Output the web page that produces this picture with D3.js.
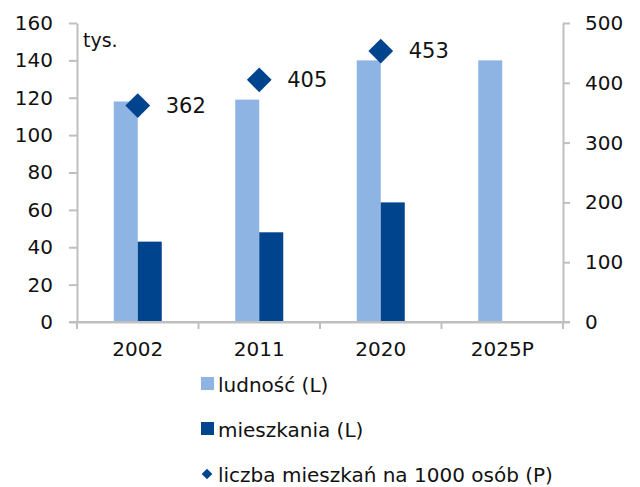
<!DOCTYPE html>
<html><head><meta charset="utf-8">
<script src="https://cdn.jsdelivr.net/npm/d3@7"></script>
<style>body{margin:0;background:#fff}svg{display:block;font-family:"DejaVu Sans",sans-serif}</style>
</head><body>
<svg id="c" width="640" height="487"></svg>
<script>
const categories = ["2002","2011","2020","2025P"];
const ludnosc = [118, 119, 140, 140];
const mieszkania = [43, 48, 64, null];
const naTysiac = [362, 405, 453, null];
const leftTicks = [0,20,40,60,80,100,120,140,160];
const rightTicks = [0,100,200,300,400,500];
const legendLabels = ["ludność (L)","mieszkania (L)","liczba mieszkań na 1000 osób (P)"];

const LIGHT = "#8eb4e3", DARK = "#00448e", AXIS = "#bfbfbf", TXT = "#111";
const svg = d3.select("#c");
const x0 = 77, x1 = 563, yTop = 23, yBot = 322;

const x = d3.scaleBand().domain(categories).range([x0, x1]).paddingInner(0).paddingOuter(0);
const yL = d3.scaleLinear().domain([0,160]).range([yBot, yTop]);
const yR = d3.scaleLinear().domain([0,500]).range([yBot, yTop]);
const barW = 24;

// axes
const gL = svg.append("g").attr("transform",`translate(${x0},0)`)
  .call(d3.axisLeft(yL).tickValues(leftTicks).tickSize(8).tickPadding(16).tickSizeOuter(0));
const gR = svg.append("g").attr("transform",`translate(${x1},0)`)
  .call(d3.axisRight(yR).tickValues(rightTicks).tickSize(7).tickPadding(15).tickSizeOuter(0));
const gX = svg.append("g").attr("transform",`translate(0,${yBot})`)
  .call(d3.axisBottom(x).tickSize(0).tickPadding(30).tickSizeOuter(0));
// category boundary ticks
const bounds = categories.map(c => x(c)).concat([x1]);
svg.append("g").selectAll("line").data(bounds).join("line")
  .attr("x1", d=>d).attr("x2", d=>d).attr("y1", yBot).attr("y2", yBot+7)
  .attr("stroke", AXIS).attr("stroke-width", 2);

[gL,gR,gX].forEach(g=>{
  g.selectAll("path.domain").attr("stroke",AXIS).attr("stroke-width",2);
  g.selectAll(".tick line").attr("stroke",AXIS).attr("stroke-width",2);
  g.selectAll(".tick text").attr("font-size",20).attr("fill",TXT).attr("font-family","DejaVu Sans");
});
gX.selectAll(".tick text").attr("dy","0.71em").attr("y", 20);

// bars
svg.append("g").selectAll("rect").data(categories).join("rect")
  .attr("x", c => x(c) + x.bandwidth()/2 - barW)
  .attr("width", barW)
  .attr("y", (c,i) => yL(ludnosc[i]))
  .attr("height", (c,i) => yBot - yL(ludnosc[i]))
  .attr("fill", LIGHT);
svg.append("g").selectAll("rect").data(categories.filter((c,i)=>mieszkania[i]!=null)).join("rect")
  .attr("x", c => x(c) + x.bandwidth()/2)
  .attr("width", barW)
  .attr("y", c => yL(mieszkania[categories.indexOf(c)]))
  .attr("height", c => yBot - yL(mieszkania[categories.indexOf(c)]))
  .attr("fill", DARK);

// redraw x axis line over bars
svg.append("line").attr("x1",x0-8).attr("x2",x1+7).attr("y1",yBot).attr("y2",yBot)
  .attr("stroke",AXIS).attr("stroke-width",2);

// diamonds
const dpts = categories.map((c,i)=>({c, v:naTysiac[i]})).filter(d=>d.v!=null);
const diamond = d3.symbol().type(d3.symbolDiamond2).size(392);
svg.append("g").selectAll("path").data(dpts).join("path")
  .attr("d", diamond)
  .attr("transform", d=>`translate(${x(d.c)+x.bandwidth()/2},${yR(d.v)})`)
  .attr("fill", DARK);
svg.append("g").selectAll("text").data(dpts).join("text")
  .attr("x", d=>x(d.c)+x.bandwidth()/2+28)
  .attr("y", d=>yR(d.v))
  .attr("dy","0.35em")
  .attr("font-size",21).attr("fill",TXT)
  .text(d=>d.v);

// unit
svg.append("text").attr("x",83).attr("y",47).attr("font-size",19).attr("fill",TXT).text("tys.");

// legend
const lg = svg.append("g");
const rows = [392, 437, 482];
lg.append("rect").attr("x",201).attr("y",rows[0]-15).attr("width",13).attr("height",13).attr("fill",LIGHT);
lg.append("rect").attr("x",201).attr("y",rows[1]-15).attr("width",13).attr("height",13).attr("fill",DARK);
lg.append("path").attr("d", d3.symbol().type(d3.symbolDiamond2).size(72)).attr("transform",`translate(207,${rows[2]-8})`).attr("fill",DARK);
lg.selectAll("text").data(legendLabels).join("text")
  .attr("x",218).attr("y",(d,i)=>rows[i]).attr("font-size",20).attr("fill",TXT).text(d=>d);
</script>
</body></html>
